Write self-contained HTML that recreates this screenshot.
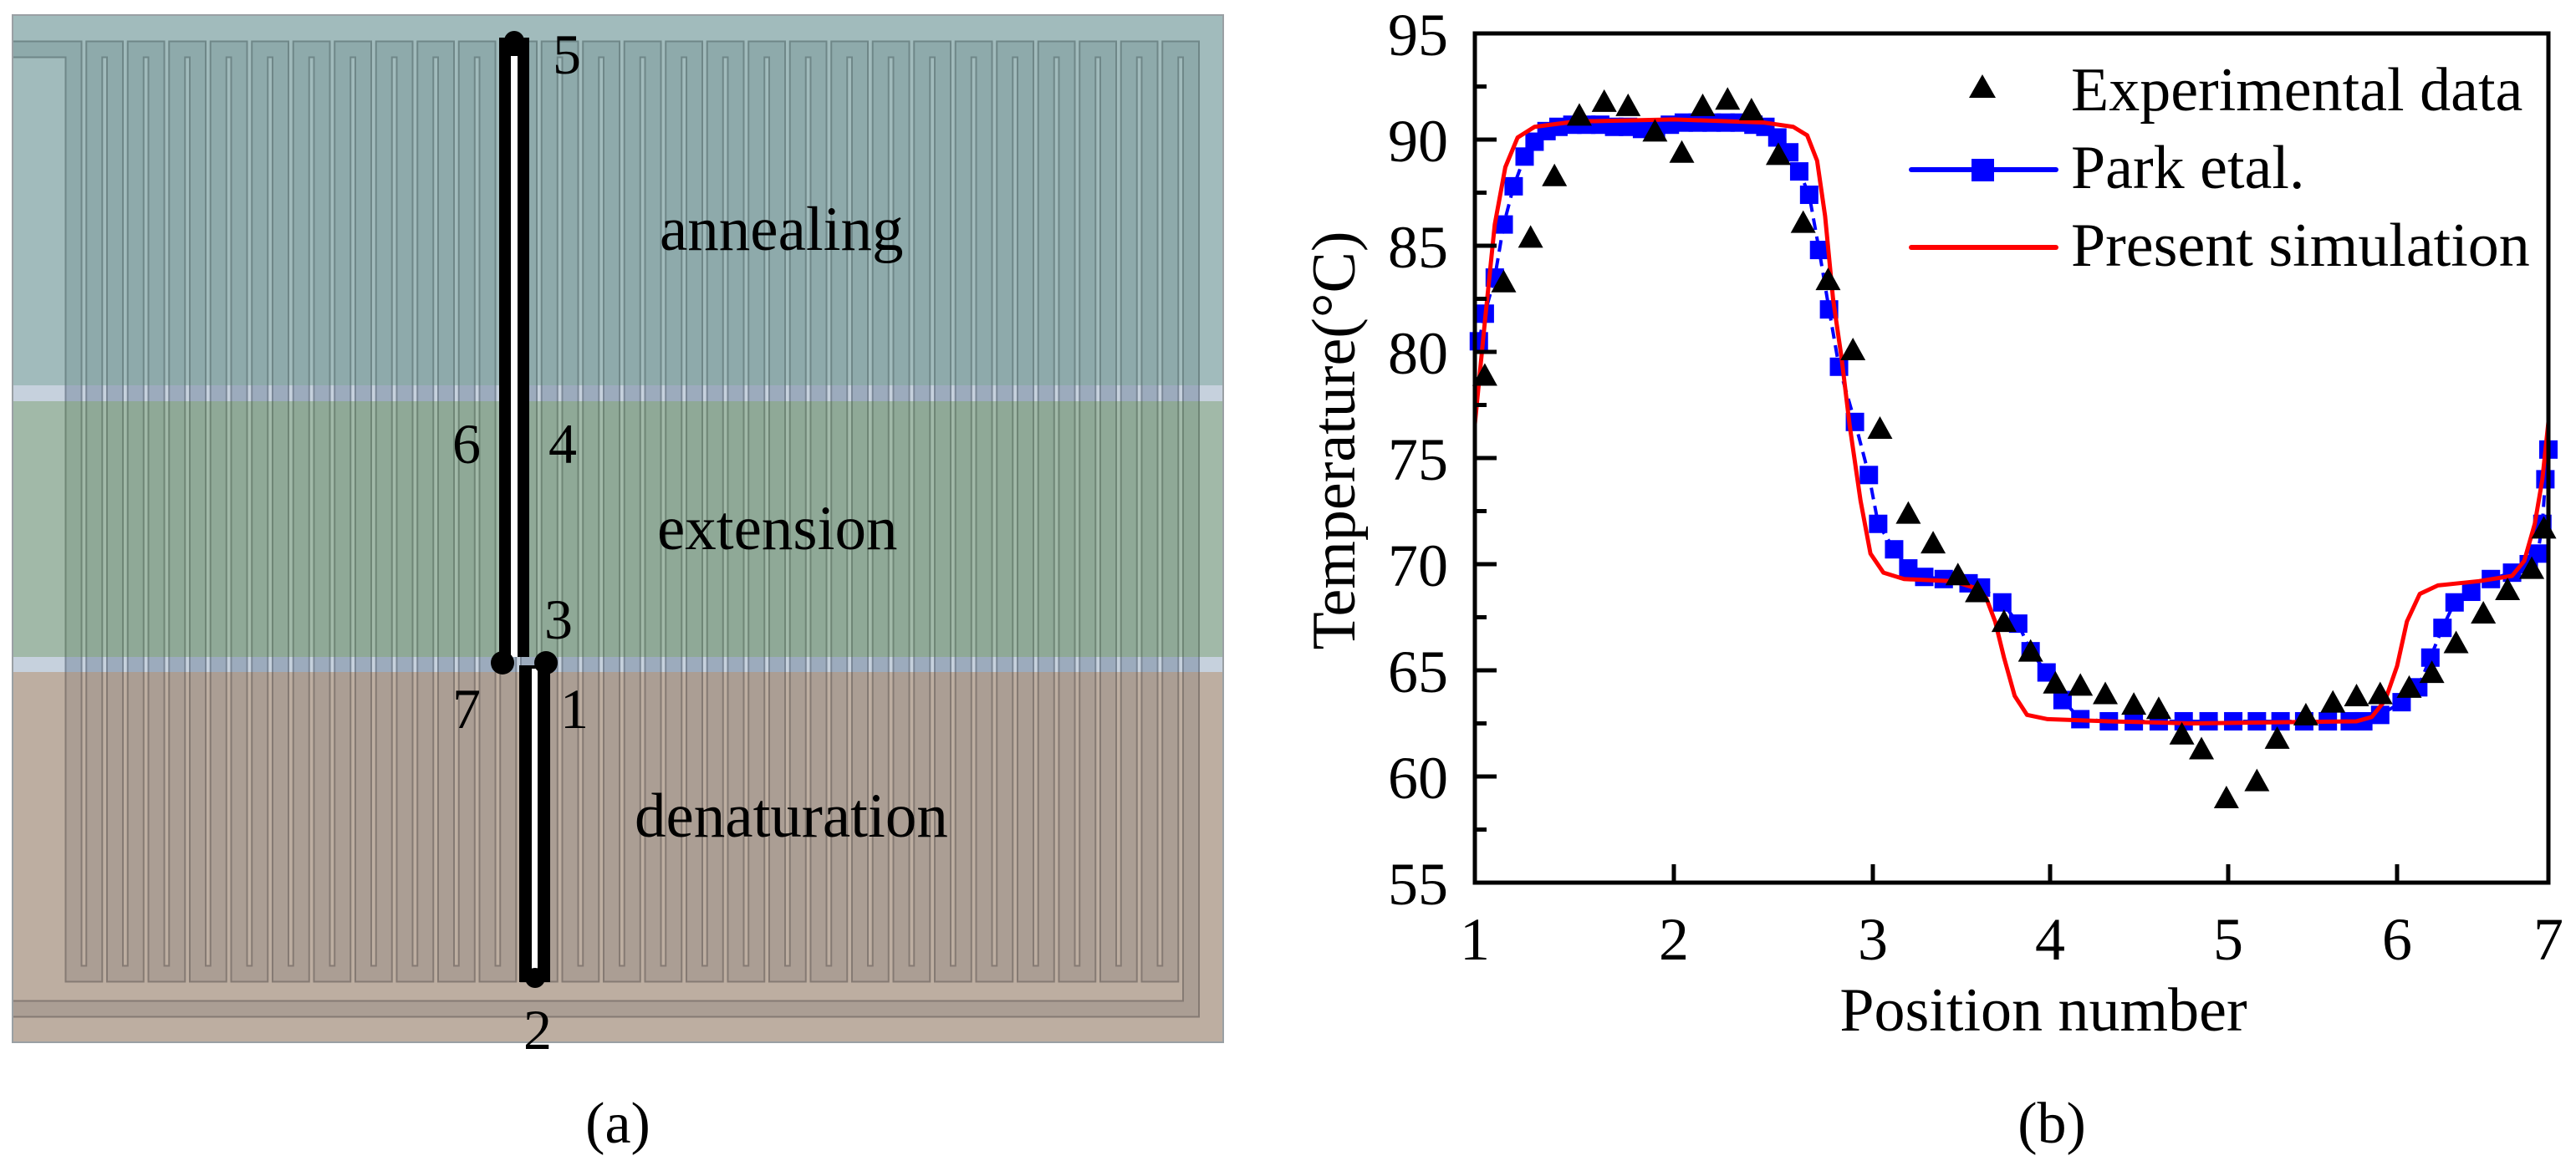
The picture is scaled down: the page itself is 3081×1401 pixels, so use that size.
<!DOCTYPE html>
<html><head><meta charset="utf-8"><style>
html,body{margin:0;padding:0;background:#fff;}
svg{display:block;font-family:"Liberation Serif","Times New Roman",Times,"DejaVu Serif",serif;}
svg text{font-family:"Liberation Serif","Times New Roman",Times,"DejaVu Serif",serif;fill:#000;}
</style></head><body>
<svg id="fig" width="3081" height="1401" viewBox="0 0 3081 1401" xmlns="http://www.w3.org/2000/svg">
<defs>
  <clipPath id="cA"><rect x="0" y="0" width="1500" height="461"/></clipPath>
  <clipPath id="cD1"><rect x="0" y="461" width="1500" height="19"/></clipPath>
  <clipPath id="cE"><rect x="0" y="480" width="1500" height="306"/></clipPath>
  <clipPath id="cD2"><rect x="0" y="786" width="1500" height="18"/></clipPath>
  <clipPath id="cN"><rect x="0" y="804" width="1500" height="450"/></clipPath>
</defs>
<g id="panelA">
  <rect x="15" y="18" width="1448" height="443" fill="#a1bbbc"/>
  <rect x="15" y="461" width="1448" height="19" fill="#c6d1dd"/>
  <rect x="15" y="480" width="1448" height="306" fill="#a1b9a8"/>
  <rect x="15" y="786" width="1448" height="18" fill="#c6d1dd"/>
  <rect x="15" y="804" width="1448" height="443" fill="#bdaea1"/>
  <g id="serp"></g>
  <rect x="15" y="18" width="1448" height="1229" fill="none" stroke="#9aa0a4" stroke-width="2"/>
  <g>
    <rect x="597" y="45" width="36" height="741" fill="#000"/>
    <rect x="611" y="67" width="8" height="719" fill="#fff"/>
    <rect x="621" y="796" width="37" height="379" fill="#000"/>
    <rect x="636" y="800" width="7" height="365" fill="#fff"/>
    <circle cx="615" cy="49" r="12" fill="#000"/>
    <circle cx="601" cy="793" r="14" fill="#000"/>
    <circle cx="653" cy="793" r="14" fill="#000"/>
    <circle cx="640" cy="1170" r="12" fill="#000"/>
  </g>
  <text x="661" y="88" font-size="68">5</text>
  <text x="558" y="554" font-size="68" text-anchor="middle">6</text>
  <text x="673" y="554" font-size="68" text-anchor="middle">4</text>
  <text x="668" y="764" font-size="68" text-anchor="middle">3</text>
  <text x="558" y="871" font-size="68" text-anchor="middle">7</text>
  <text x="687" y="871" font-size="68" text-anchor="middle">1</text>
  <text x="643" y="1255" font-size="68" text-anchor="middle">2</text>
  <text x="789" y="299" font-size="75">annealing</text>
  <text x="786" y="657" font-size="75">extension</text>
  <text x="759" y="1001" font-size="75">denaturation</text>
  <text x="739" y="1367" font-size="70" text-anchor="middle">(a)</text>
</g>
<g id="chart">
  <g id="series"></g>
  <rect x="1764" y="40" width="1284" height="1016" fill="none" stroke="#000" stroke-width="5"/>
  <g id="axes"></g>
  <text x="2444" y="1233" font-size="74" text-anchor="middle">Position number</text>
  <text transform="translate(1620,527) rotate(-90)" font-size="74" text-anchor="middle">Temperature(°C)</text>
  <g>
    <polygon points="2355,117 2387,117 2371,89" fill="#000"/>
    <text x="2477" y="132" font-size="74">Experimental data</text>
    <line x1="2286" y1="203" x2="2459" y2="203" stroke="#0000ff" stroke-width="6" stroke-linecap="round"/>
    <rect x="2358" y="190" width="27" height="27" fill="#0000ff"/>
    <text x="2477" y="225" font-size="74">Park etal.</text>
    <line x1="2286" y1="296" x2="2459" y2="296" stroke="#ff0000" stroke-width="6" stroke-linecap="round"/>
    <text x="2477" y="318" font-size="74">Present simulation</text>
  </g>
  <text x="2454" y="1367" font-size="70" text-anchor="middle">(b)</text>
</g>
</svg>
<script>
// ---- chart data ----
const xTicks = [1, 2, 3, 4, 5, 6, 7];
const yTicks = [55, 60, 65, 70, 75, 80, 85, 90, 95];
const expPos = [1.05,1.145,1.28,1.40,1.525,1.65,1.77,1.905,2.04,2.145,2.27,2.39,2.525,2.65,2.775,2.90,3.04,3.20,3.34,3.48,3.59,3.74,3.89,4.03,4.17,4.31,4.47,4.61,4.74,4.85,4.99,5.17,5.29,5.46,5.62,5.76,5.90,6.08,6.23,6.39,6.57,6.73,6.89,6.97];
const expVal = [78.8,83.2,85.3,88.2,91.05,91.7,91.5,90.3,89.3,91.5,91.8,91.3,89.2,86.0,83.3,80.0,76.3,72.3,70.9,69.4,68.6,67.2,65.8,64.3,64.2,63.8,63.3,63.1,61.9,61.2,58.9,59.7,61.7,62.8,63.4,63.7,63.8,64.1,64.8,66.2,67.6,68.7,69.7,71.6];
const parkPos = [1.02,1.05,1.10,1.145,1.195,1.25,1.30,1.36,1.42,1.49,1.56,1.63,1.70,1.77,1.84,1.91,1.98,2.05,2.12,2.19,2.26,2.33,2.40,2.46,2.52,2.58,2.63,2.68,2.73,2.78,2.83,2.91,2.98,3.03,3.12,3.20,3.29,3.40,3.54,3.61,3.73,3.82,3.89,3.98,4.07,4.17,4.33,4.47,4.61,4.75,4.89,5.03,5.17,5.31,5.45,5.59,5.72,5.80,5.90,6.03,6.14,6.22,6.30,6.38,6.49,6.62,6.76,6.87,6.93,6.96,6.98,7.0];
const parkVal = [80.5,81.8,83.5,86.0,87.8,89.2,89.9,90.4,90.6,90.7,90.7,90.7,90.6,90.6,90.5,90.5,90.7,90.8,90.8,90.8,90.8,90.8,90.7,90.6,90.1,89.4,88.5,87.4,84.8,82.0,79.3,76.7,74.2,71.9,70.7,69.8,69.4,69.3,69.1,68.9,68.2,67.2,65.9,64.9,63.6,62.7,62.6,62.6,62.6,62.6,62.6,62.6,62.6,62.6,62.6,62.6,62.6,62.6,62.9,63.5,64.2,65.6,67.0,68.2,68.7,69.3,69.6,70.0,70.5,71.9,74.0,75.4];
const simPos = [1.0,1.05,1.10,1.153,1.215,1.30,1.504,2.0,2.455,2.60,2.67,2.72,2.76,2.80,2.843,2.884,2.938,2.988,3.06,3.176,3.454,3.57,3.64,3.69,3.74,3.80,3.87,3.986,4.33,4.79,5.76,5.85,5.93,6.0,6.065,6.15,6.27,6.54,6.76,6.84,6.91,6.96,7.0];
const simVal = [76.6,81.4,86.0,88.7,90.1,90.6,90.85,90.95,90.8,90.6,90.2,89.0,86.4,82.5,79.7,76.5,73.0,70.5,69.6,69.3,69.2,68.9,68.4,67.3,65.6,63.8,62.9,62.7,62.6,62.5,62.6,62.8,63.6,65.2,67.3,68.6,69.0,69.2,69.45,70.15,71.9,74.0,76.7];

// ---- axis functions ----
const tickPx = [1764, 2002, 2240, 2452, 2665, 2867, 3048]; // x-axis scale breakpoints
const yTop = 40, yBot = 1056, yMin = 55, yMax = 95;
function xAt(p) {
  if (p <= xTicks[0]) return tickPx[0];
  for (let i = 0; i < xTicks.length - 1; i++) {
    if (p <= xTicks[i + 1]) {
      const t = (p - xTicks[i]) / (xTicks[i + 1] - xTicks[i]);
      return tickPx[i] + t * (tickPx[i + 1] - tickPx[i]);
    }
  }
  return tickPx[tickPx.length - 1];
}
function yAt(v) { return yBot - (v - yMin) / (yMax - yMin) * (yBot - yTop); }

const NS = 'http://www.w3.org/2000/svg';
function mk(tag, attrs, parent) {
  const e = document.createElementNS(NS, tag);
  for (const k in attrs) e.setAttribute(k, attrs[k]);
  parent.appendChild(e);
  return e;
}

// ---- axes ----
const axes = document.getElementById('axes');
yTicks.forEach((v, i) => {
  const y = yAt(v);
  const t = mk('line', {x1: 1764, x2: 1790, y1: y, y2: y, stroke: '#000', 'stroke-width': 5}, axes);
  
  
  if (i < yTicks.length - 1) {
    const ym = yAt(v + 2.5);
    const m = mk('line', {x1: 1764, x2: 1778, y1: ym, y2: ym, stroke: '#000', 'stroke-width': 5}, axes);
    
    
  }
  const l = mk('text', {x: 1732, y: y + 26, 'font-size': 72, 'text-anchor': 'end'}, axes);
  l.textContent = v;
  
  
});
xTicks.forEach((p) => {
  const x = xAt(p);
  const t = mk('line', {x1: x, x2: x, y1: 1056, y2: 1034, stroke: '#000', 'stroke-width': 5}, axes);
  
  
  const l = mk('text', {x: x, y: 1148, 'font-size': 72, 'text-anchor': 'middle'}, axes);
  l.textContent = p;
  
  
});

// ---- series ----
const ser = document.getElementById('series');
const parkLine = mk('polyline', {points: parkPos.map((p, i) => xAt(p) + ',' + yAt(parkVal[i])).join(' '), fill: 'none', stroke: '#0000ff', 'stroke-width': 4, 'stroke-dasharray': '14 8'}, ser);


parkPos.forEach((p, i) => {
  const r = mk('rect', {x: xAt(p) - 11, y: yAt(parkVal[i]) - 11, width: 22, height: 22, fill: '#0000ff'}, ser);
  
  
});
const simLine = mk('polyline', {points: simPos.map((p, i) => xAt(p) + ',' + yAt(simVal[i])).join(' '), fill: 'none', stroke: '#ff0000', 'stroke-width': 5, 'stroke-linejoin': 'round'}, ser);


expPos.forEach((p, i) => {
  const cx = xAt(p), cy = yAt(expVal[i]);
  const tr = mk('polygon', {points: (cx - 15) + ',' + (cy + 10) + ' ' + (cx + 15) + ',' + (cy + 10) + ' ' + cx + ',' + (cy - 17), fill: '#000'}, ser);
  
  
});

// ---- serpentine channel in panel (a) ----
const serp = document.getElementById('serp');
let d = 'M15,59 L88,59 ';
const pitch = 24.75, nLegs = 54;
for (let i = 0; i <= nLegs; i++) {
  const x = 88 + pitch * i;
  const goingDown = (i % 2 === 0);
  const yEnd = (i === nLegs) ? 1207 : (goingDown ? 1165 : 59);
  d += 'L' + x + ',' + yEnd + ' ';
  if (i < nLegs) d += 'L' + (x + pitch) + ',' + yEnd + ' ';
}
d += 'L15,1207';
const bands = [
  ['cA', '#6f8788', '#8eaaab'],
  ['cD1', '#7b8898', '#9cabbd'],
  ['cE', '#6f8676', '#8fa997'],
  ['cD2', '#7b8898', '#9cabbd'],
  ['cN', '#857a73', '#ab9e94']
];
bands.forEach(b => {
  const g = mk('g', {'clip-path': 'url(#' + b[0] + ')'}, serp);
  
  
  const w = mk('path', {d: d, fill: 'none', stroke: b[1], 'stroke-width': 21}, g);
  
  
  const f = mk('path', {d: d, fill: 'none', stroke: b[2], 'stroke-width': 17}, g);
  
  
});
</script>
</body></html>
